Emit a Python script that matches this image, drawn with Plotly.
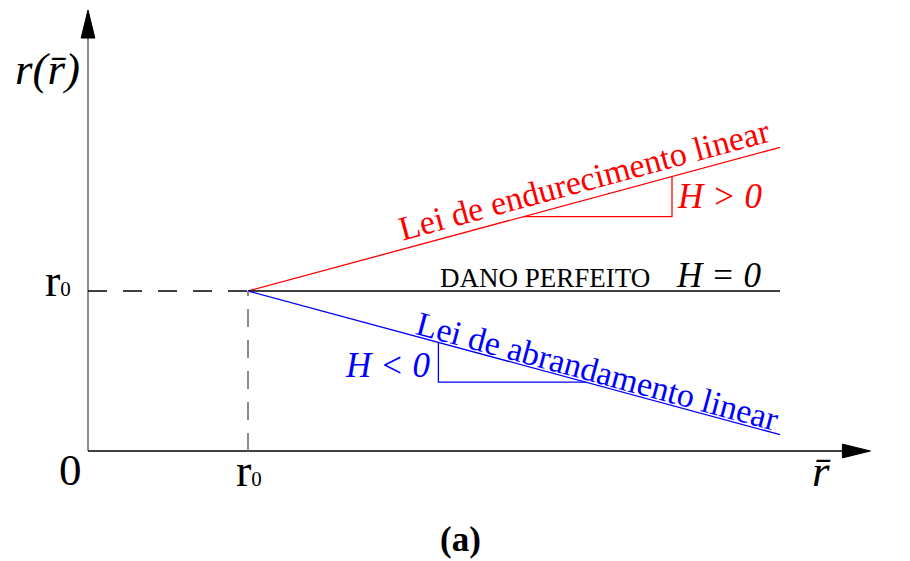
import numpy as np
import plotly.graph_objects as go

# Damage threshold evolution r(r̄) for three hardening laws
r0 = 1.0                  # initial damage threshold
r_bar_end = 4.325         # end of the plotted r̄ range
H_values = [0.27, 0.0, -0.27]          # hardening modulus: positive, perfect, softening
law_colors = ["red", "black", "blue"]
x_axis_end = 4.89
y_axis_end = 2.756

# slope-triangle extents along r̄ for H > 0 and H < 0
tri_pos = [2.72, 3.65]
tri_neg = [2.19, 3.11]

SERIF = "Liberation Serif"

fig = go.Figure()

# linear laws r = r0 + H (r̄ - r0)
for H, c in zip(H_values, law_colors):
    xs = np.array([r0, r_bar_end])
    ys = r0 + H * (xs - r0)
    fig.add_trace(go.Scatter(x=xs, y=ys, mode="lines",
                             line=dict(color=c, width=1.3), hoverinfo="skip"))

def law(H, x):
    return r0 + H * (x - r0)

shapes = []
# axes
shapes.append(dict(type="line", x0=0, y0=0, x1=0, y1=y_axis_end - 0.15,
                   line=dict(color="#707070", width=1.6)))
shapes.append(dict(type="line", x0=0, y0=0, x1=x_axis_end - 0.15, y1=0,
                   line=dict(color="black", width=1.6)))
# arrowheads
ya = y_axis_end
shapes.append(dict(type="path",
                   path=f"M 0,{ya} L -0.043,{ya-0.175} L 0.043,{ya-0.175} Z",
                   fillcolor="black", line=dict(color="black", width=1)))
xa = x_axis_end
shapes.append(dict(type="path",
                   path=f"M {xa},0 L {xa-0.175},0.043 L {xa-0.175},-0.043 Z",
                   fillcolor="black", line=dict(color="black", width=1)))
# dashed guides to r0
shapes.append(dict(type="line", x0=0, y0=r0, x1=r0, y1=r0,
                   line=dict(color="black", width=1.3, dash="19px,16px")))
shapes.append(dict(type="line", x0=r0, y0=0, x1=r0, y1=r0,
                   line=dict(color="#707070", width=1.6, dash="18px,13px")))
# slope triangles
for (xa0, xa1), H, c in [(tri_pos, H_values[0], "red"), (tri_neg, H_values[2], "blue")]:
    if H > 0:
        pts = [(xa0, law(H, xa0)), (xa1, law(H, xa0)), (xa1, law(H, xa1))]
    else:
        pts = [(xa0, law(H, xa0)), (xa0, law(H, xa1)), (xa1, law(H, xa1))]
    shapes.append(dict(type="path",
                       path="M " + " L ".join(f"{px},{py}" for px, py in pts),
                       line=dict(color=c, width=1.3)))

ann = []
def label(x, y, text, size, color="black", angle=0):
    ann.append(dict(x=x, y=y, xref="x", yref="y", text=text, showarrow=False,
                    textangle=angle, xanchor="center", yanchor="middle",
                    font=dict(family=SERIF, size=size, color=color)))

sub0 = "<span style='font-size:21px'>0</span>"
ang = np.degrees(np.arctan(H_values[0]))
label(-0.256, 2.387, "<i>r(r̄)</i>", 45)
label(-0.19, 1.064, "r" + sub0, 46)
label(-0.1125, -0.121, "0", 45)
label(r0 + 0.009, -0.123, "r" + sub0, 46)
label(4.58, -0.123, "<i>r̄</i>", 45)
label(2.33, -0.55, "<b>(a)</b>", 35)
label(2.856, 1.081, "DANO PERFEITO", 27)
label(3.94, 1.096, "<i>H = 0</i>", 35)
label(3.106, 1.694, "Lei de endurecimento linear", 34, "red", -ang)
label(3.945, 1.59, "<i>H > 0</i>", 35, "red")
label(3.19, 0.50, "Lei de abrandamento linear", 34, "blue", ang)
label(1.87, 0.534, "<i>H < 0</i>", 35, "blue")

fig.update_layout(
    width=910, height=561,
    margin=dict(l=0, r=0, t=0, b=0),
    plot_bgcolor="white", paper_bgcolor="white",
    showlegend=False,
    shapes=shapes, annotations=ann,
    xaxis=dict(range=[-0.55, 5.1375], visible=False, fixedrange=True),
    yaxis=dict(range=[-0.6875, 2.81875], visible=False, fixedrange=True),
)

fig.write_html("out.html")
